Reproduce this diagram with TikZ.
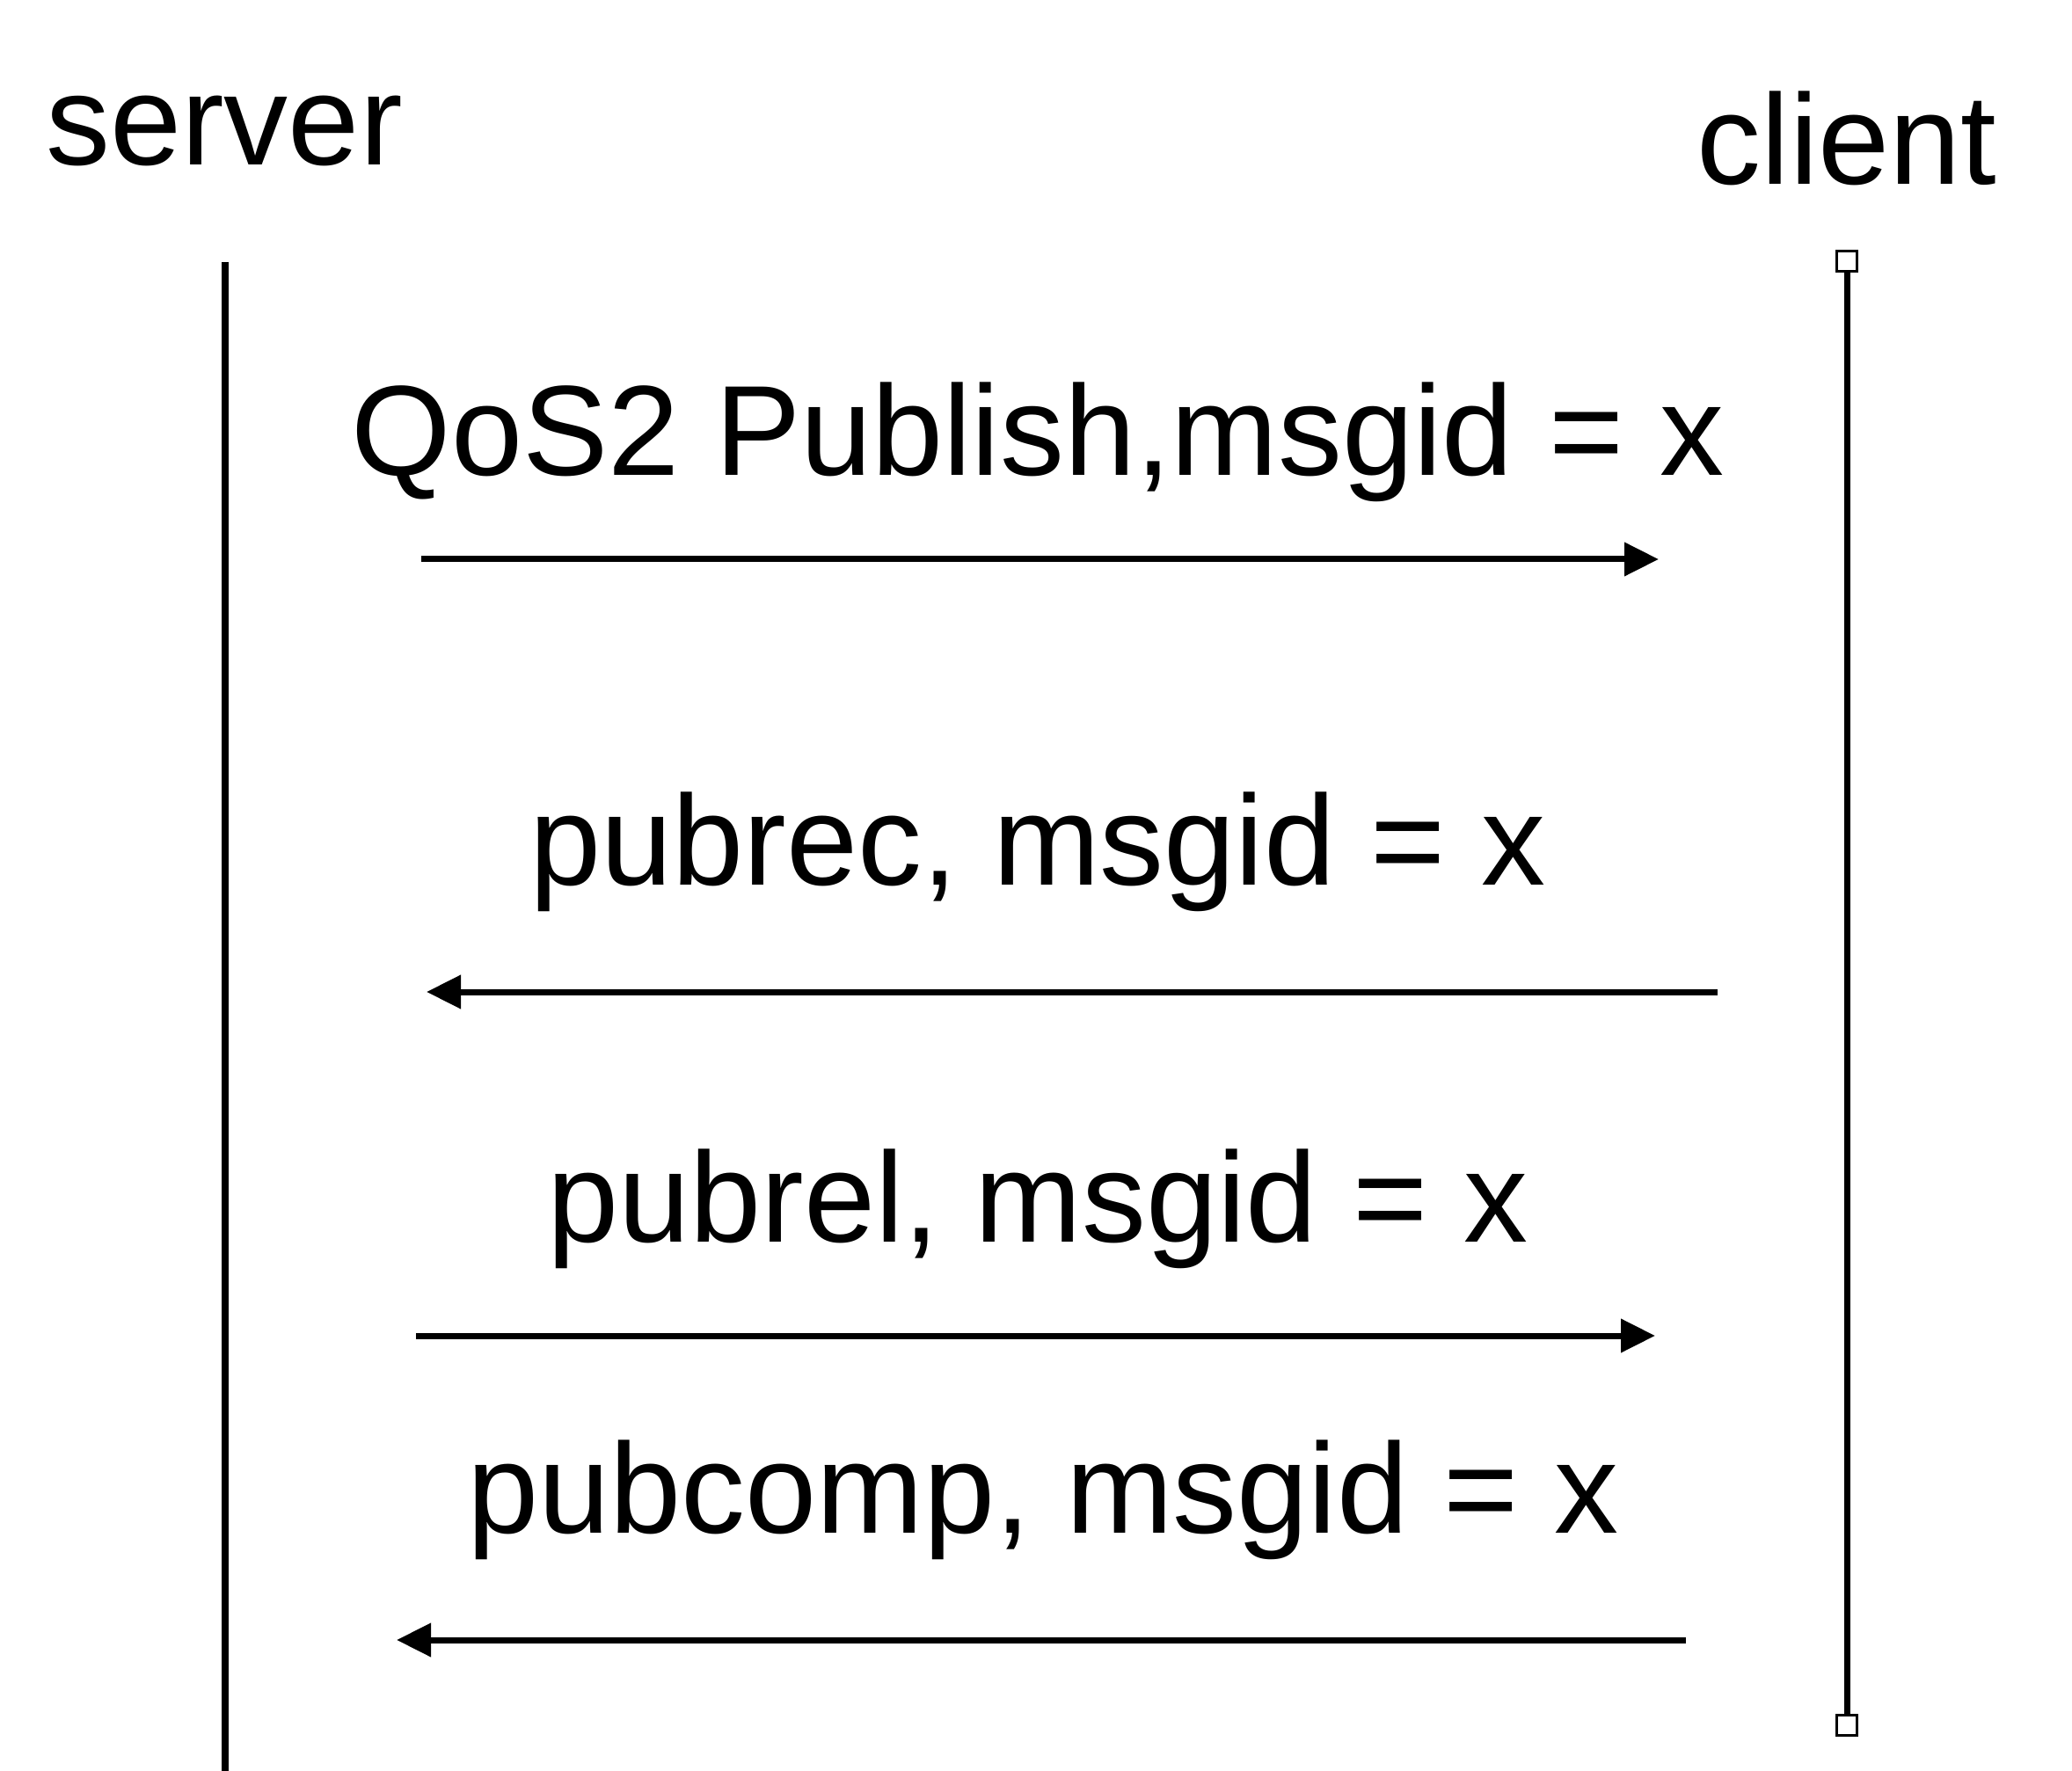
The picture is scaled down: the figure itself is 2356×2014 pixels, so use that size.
\documentclass[tikz,border=0pt]{standalone}
\usepackage{fontspec}
\setmainfont{Liberation Sans}
\usetikzlibrary{arrows.meta}

\tikzset{
  lbl/.style={anchor=base, inner sep=0pt, font=\fontsize{41.5}{48}\selectfont},
  lifeline/.style={line width=0.8mm},
  msgarrow/.style={line width=0.7mm, -{Triangle[length=3.9mm,width=3.7mm]}},
  endbox/.style={draw, line width=0.3mm, fill=white, minimum size=2.3mm, inner sep=0pt}
}

\begin{document}
\begin{tikzpicture}[x=0.1mm,y=-0.1mm]
\useasboundingbox (0,0) rectangle (2356,2014);
% lifelines
\node[lbl] (server) at (255,188) {server};
\node[lbl] (client) at (2100,210) {client};
\coordinate (s top) at (256,298);
\coordinate (s bot) at (256,2014);
\draw[lifeline] (s top) -- (s bot);
\node[endbox] (c top) at (2100,297) {};
\node[endbox] (c bot) at (2100,1962) {};
\draw[lifeline, line width=0.7mm] (c top.south) -- (c bot.north);
% messages
\node[lbl] (m1) at (1180,541) {QoS2 Publish,msgid = x};
\coordinate (a1) at (479,636);
\coordinate (b1) at (1886,636);
\draw[msgarrow] (a1) -- (b1);
\node[lbl] (m2) at (1180,1007) {pubrec, msgid = x};
\coordinate (a2) at (1953,1128);
\coordinate (b2) at (485,1128);
\draw[msgarrow] (a2) -- (b2);
\node[lbl] (m3) at (1180,1412) {pubrel, msgid = x};
\coordinate (a3) at (473,1519);
\coordinate (b3) at (1882,1519);
\draw[msgarrow] (a3) -- (b3);
\node[lbl] (m4) at (1186,1743) {pubcomp, msgid = x};
\coordinate (a4) at (1917,1865);
\coordinate (b4) at (451,1865);
\draw[msgarrow] (a4) -- (b4);
\end{tikzpicture}
\end{document}
